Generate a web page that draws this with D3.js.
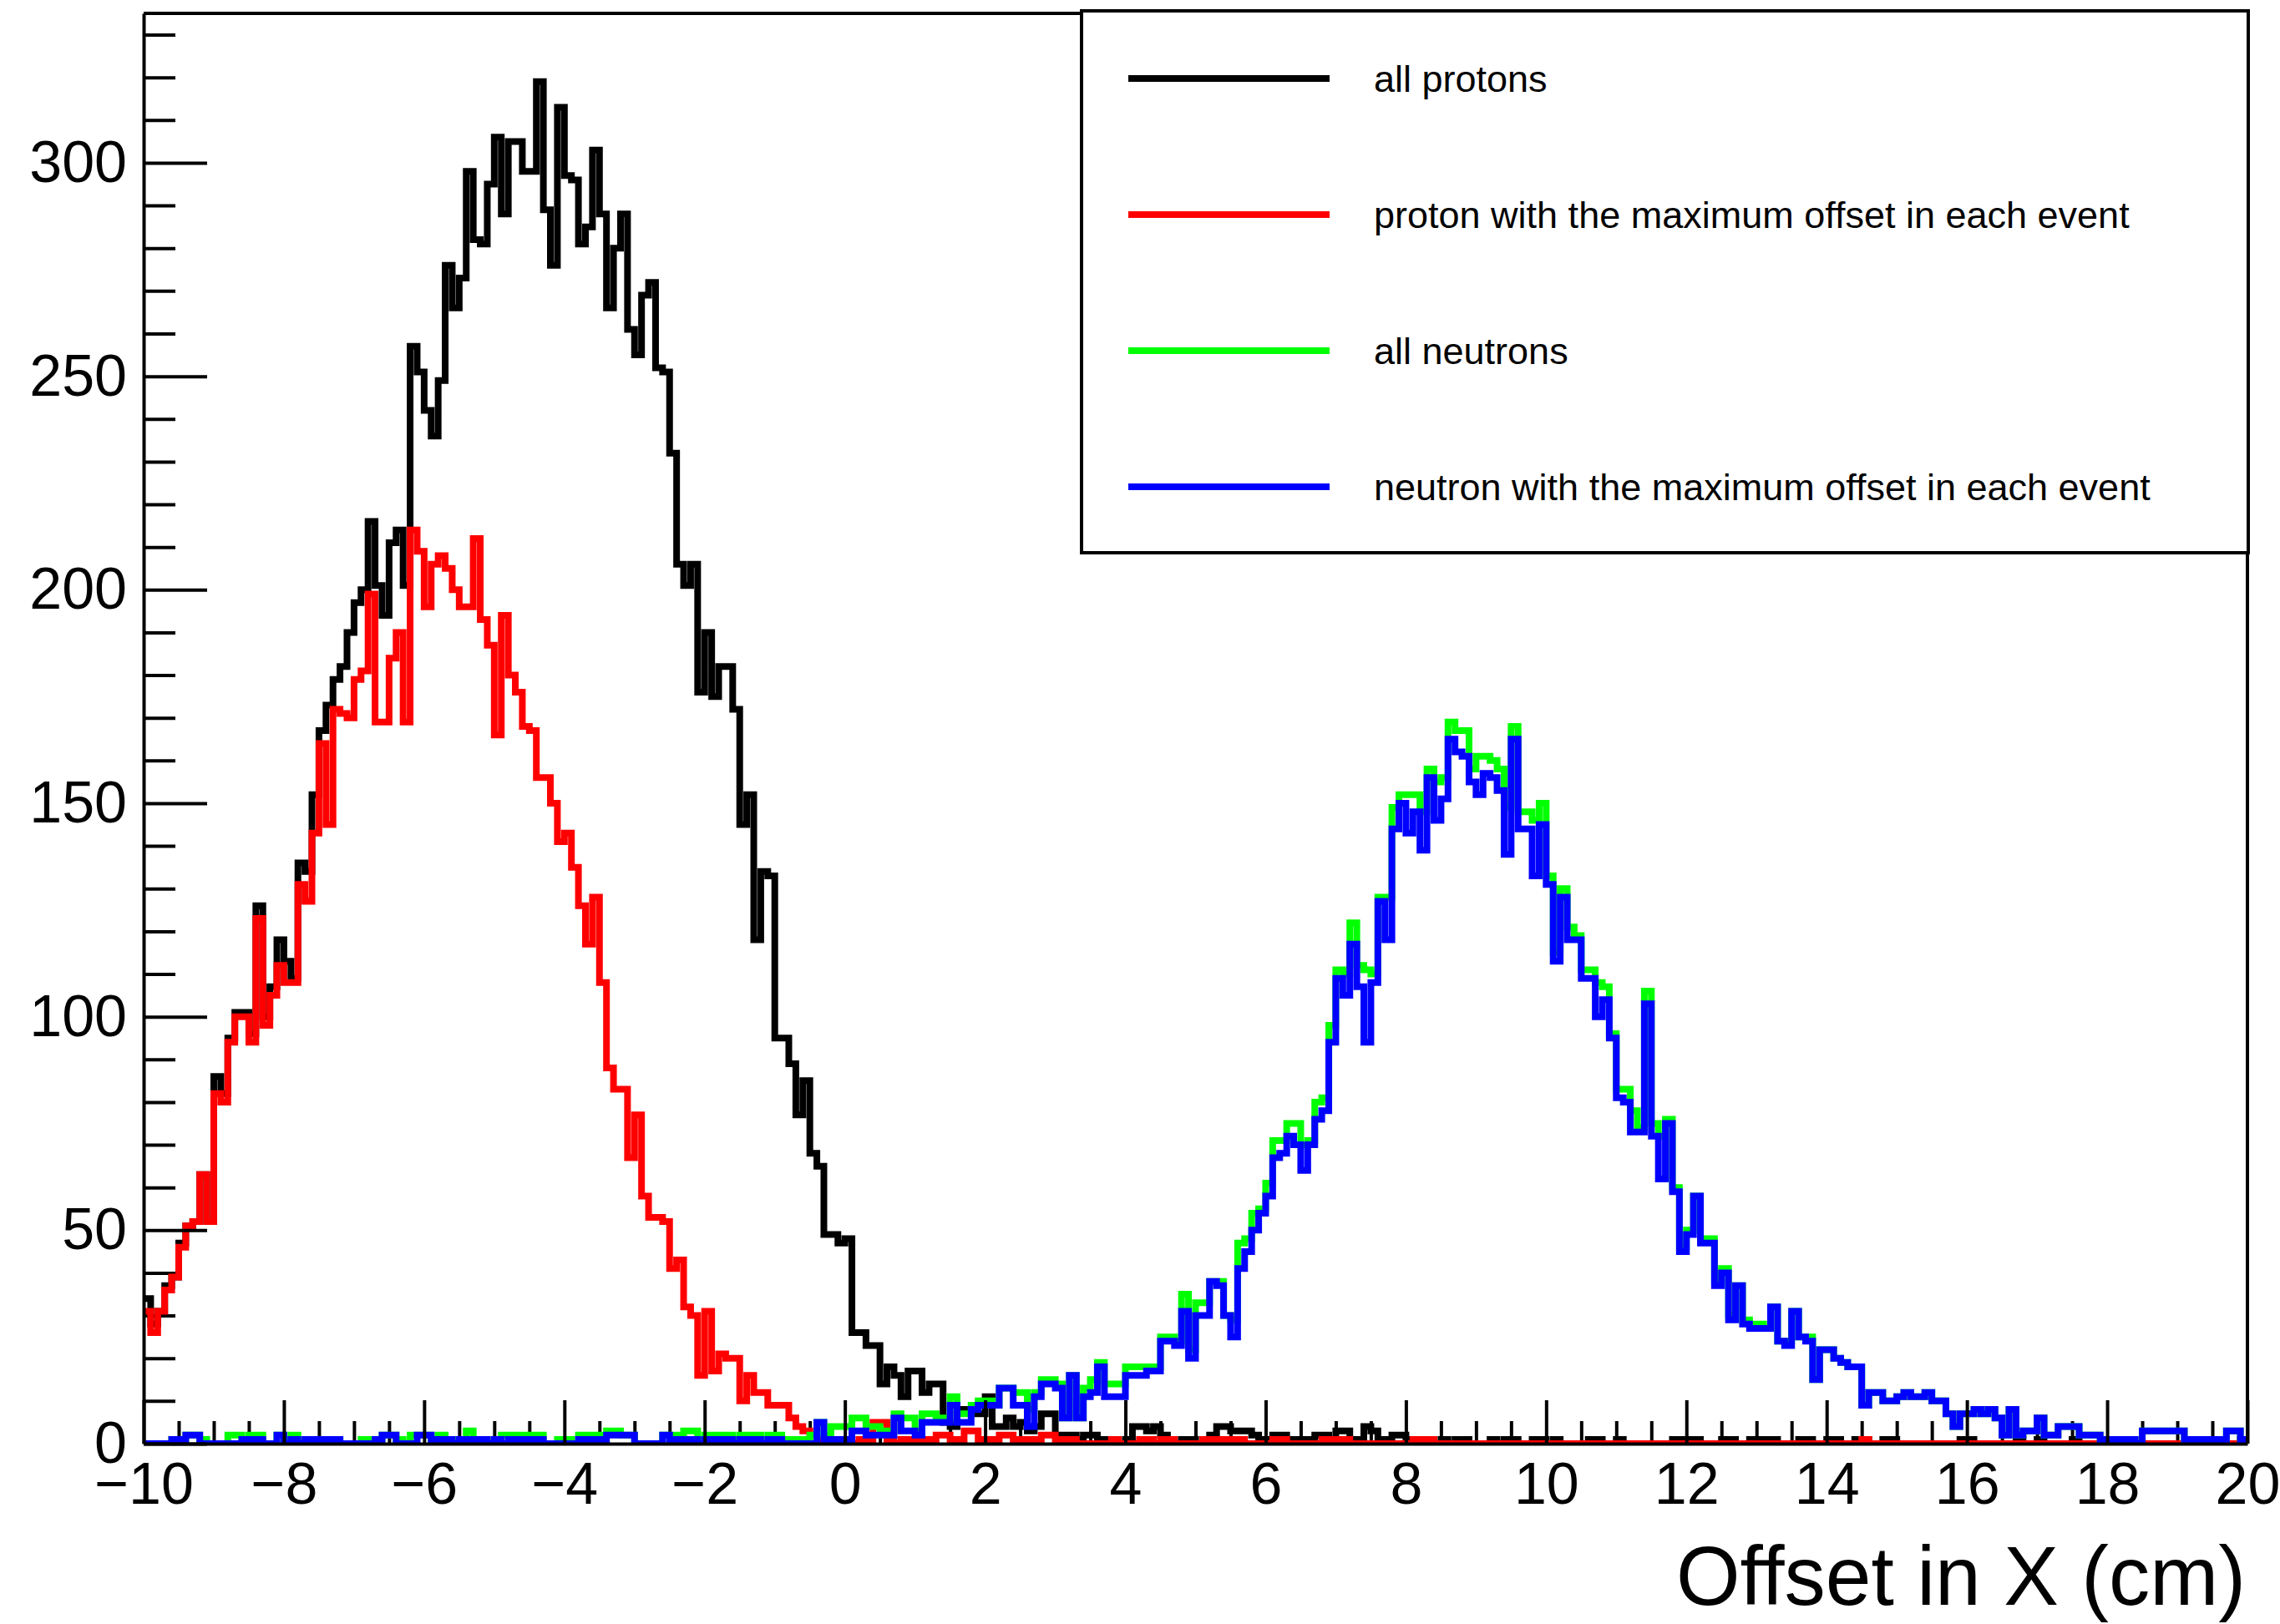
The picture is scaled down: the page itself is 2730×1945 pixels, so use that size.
<!DOCTYPE html>
<html>
<head>
<meta charset="utf-8">
<script src="https://cdn.jsdelivr.net/npm/d3@7"></script>
<style>
html,body{margin:0;padding:0;background:#fff;}
svg{display:block;}
text{font-family:"Liberation Sans",Arial,Helvetica,sans-serif;fill:#000;}
</style>
</head>
<body>
<svg id="chart" width="2730" height="1945"></svg>
<script>
// ---------- binning ----------
const xMin = -10, xMax = 20, binWidth = 0.1;

// ---------- series (counts per 0.1 cm bin, 300 bins from -10 to 20) ----------
const allProtons = [
34,28,31,37,39,47,51,52,63,52,
86,82,95,101,101,96,126,100,107,118,
113,109,136,134,152,167,173,179,182,190,
197,200,216,201,194,211,214,201,257,251,
242,236,249,276,266,273,298,282,281,295,
306,288,305,305,298,298,319,289,276,313,
297,296,281,285,303,288,266,280,288,261,
255,269,272,252,251,232,206,201,206,176,
190,175,182,182,172,145,152,118,134,133,
95,95,89,77,85,68,65,49,49,47,
48,26,26,23,23,14,18,16,11,17,
17,12,14,14,5,4,8,8,7,7,
11,4,4,6,4,5,3,4,7,7,
2,2,2,1,2,2,1,1,1,0,
1,4,4,3,4,2,1,0,1,1,
0,1,2,4,4,3,3,3,2,1,
1,2,2,1,1,1,1,2,2,1,
3,3,1,1,4,3,1,1,2,2,
1,1,1,1,0,1,0,1,1,0,
0,0,1,0,1,1,0,0,1,1,
0,1,0,0,0,0,1,1,0,0,
1,0,0,0,0,0,0,0,1,1,
1,1,0,0,0,1,1,0,0,1,
1,1,1,0,0,0,1,1,0,0,
1,1,0,0,1,1,0,0,1,1,
0,0,0,0,0,0,0,0,0,1,
1,0,0,0,0,0,0,1,0,0,
1,0,0,0,0,1,0,0,0,0,
0,0,0,0,0,0,0,0,0,0,
0,0,0,0,0,0,0,0,0,1
];

const maxOffsetProton = [
31,26,31,36,39,46,51,52,63,52,
82,80,94,100,100,94,123,98,105,112,
108,108,131,127,143,164,145,172,171,170,
179,181,199,169,169,184,190,169,214,209,
196,206,208,205,200,196,196,212,193,187,
166,194,180,176,168,167,156,156,150,141,
143,135,126,117,128,108,88,83,83,67,
77,58,53,53,52,41,43,32,30,16,
31,17,21,20,20,10,16,12,12,9,
9,9,6,4,3,2,1,0,1,1,
1,0,1,1,5,5,1,0,1,1,
1,1,1,2,2,1,1,3,3,1,
1,1,2,2,1,1,1,1,2,2,
1,1,1,0,0,0,0,0,1,0,
0,0,1,1,0,1,1,0,0,0,
0,1,1,1,1,1,1,0,0,0,
0,1,1,0,0,0,0,0,1,1,
1,1,0,0,0,0,0,0,0,0,
0,1,1,1,0,0,0,0,0,0,
0,0,0,0,0,0,0,0,0,0,
0,0,0,0,0,0,0,0,0,0,
0,0,0,0,0,0,0,0,0,0,
0,0,0,0,0,0,0,0,0,0,
0,0,0,0,0,0,0,0,0,0,
0,0,0,0,0,1,0,0,0,0,
0,0,0,0,0,0,0,0,0,0,
0,0,0,0,0,0,0,0,0,0,
0,0,0,0,0,0,0,0,0,0,
0,0,0,0,0,0,0,0,0,0,
0,0,0,0,0,0,0,0,0,1
];

const allNeutrons = [
0,0,0,0,1,1,2,2,1,0,
0,0,2,2,1,2,2,0,0,2,
1,2,0,1,1,1,1,1,0,0,
0,1,1,1,2,2,1,0,2,2,
2,1,2,1,1,1,3,1,1,0,
1,2,2,2,2,2,2,0,0,1,
1,0,2,2,2,2,3,3,2,2,
0,0,0,0,2,2,2,3,3,1,
2,2,2,2,1,2,2,2,0,2,
2,1,1,1,1,2,5,2,4,4,
4,6,6,4,4,3,3,7,6,6,
3,7,7,6,6,11,7,7,9,10,
10,9,13,13,12,12,8,12,15,15,
14,6,16,6,13,15,19,14,14,14,
18,18,18,18,18,25,25,24,35,22,
33,33,38,38,30,29,47,48,54,55,
61,71,71,75,75,70,71,80,81,98,
111,110,122,112,111,110,128,128,149,152,
152,152,148,158,155,156,169,167,167,158,
161,161,160,158,149,168,148,148,146,150,
133,115,130,121,119,111,111,108,107,96,
83,83,78,74,106,75,72,76,60,46,
50,58,48,48,38,41,30,37,29,28,
28,27,32,24,24,31,25,25,15,22,
22,20,19,18,18,9,12,12,10,10,
11,12,11,11,12,10,10,7,4,7,
7,8,7,8,6,2,8,2,3,3,
6,2,2,4,4,4,2,2,2,1,
1,1,1,1,0,3,3,3,3,3,
3,1,1,1,1,1,1,3,3,1
];

const maxOffsetNeutron = [
0,0,0,0,1,1,2,2,0,0,
0,0,0,0,1,1,1,0,0,2,
0,1,0,1,1,1,1,1,0,0,
0,0,0,1,2,2,0,0,0,2,
2,1,1,1,0,1,1,1,1,0,
1,0,1,1,1,1,1,0,0,0,
0,0,1,1,1,1,2,2,2,2,
0,0,0,0,2,1,1,1,1,0,
1,1,1,1,0,1,1,1,0,1,
1,0,0,0,0,0,5,1,1,1,
1,3,3,2,2,2,2,6,3,3,
2,5,5,5,5,9,5,5,8,9,
9,9,13,13,9,9,4,11,14,14,
13,6,16,6,11,12,18,11,11,11,
16,16,16,17,17,24,24,23,31,20,
30,30,38,37,30,25,41,45,50,54,
58,67,68,72,70,64,70,76,78,94,
109,105,117,107,94,108,127,118,144,150,
143,148,139,156,146,151,165,162,161,155,
152,157,156,153,138,165,144,144,133,145,
131,113,128,118,118,109,109,100,104,95,
81,80,73,73,103,72,62,75,59,45,
49,58,47,47,37,40,29,37,28,27,
27,27,32,24,23,31,25,24,15,22,
22,20,19,18,18,9,12,12,10,10,
11,12,11,11,12,10,10,7,4,7,
7,8,7,8,6,2,8,2,3,3,
6,2,2,4,4,4,2,2,2,1,
1,1,1,1,0,3,3,3,3,3,
3,1,1,1,1,1,1,3,3,1
];

// ---------- labels & ticks ----------
const seriesNames = [
  "all protons",
  "proton with the maximum offset in each event",
  "all neutrons",
  "neutron with the maximum offset in each event"
];
const seriesColors = ["#000000", "#ff0000", "#00ff00", "#0000ff"];
const xTickMajor = [-10,-8,-6,-4,-2,0,2,4,6,8,10,12,14,16,18,20];
const yTickMajor = [0,50,100,150,200,250,300];
const xTitle = "Offset in X (cm)";
const yMax = 335;

// ---------- layout ----------
const frame = {left:172, right:2691, top:16, bottom:1729};
const svg = d3.select("#chart");
svg.append("rect").attr("x",0).attr("y",0).attr("width",2730).attr("height",1945).attr("fill","#fff");

const x = d3.scaleLinear().domain([xMin, xMax]).range([frame.left, frame.right]);
const y = d3.scaleLinear().domain([0, yMax]).range([frame.bottom, frame.top]);

// clip
svg.append("defs").append("clipPath").attr("id","clipFrame")
  .append("rect").attr("x",frame.left).attr("y",frame.top)
  .attr("width",frame.right-frame.left).attr("height",frame.bottom-frame.top);

// minor ticks (drawn inside frame)
const xMinorVals = d3.range(xMin, xMax + 1e-9, 0.5).filter(v => Math.abs(v/2 - Math.round(v/2)) > 1e-6);
const yMinorVals = d3.range(0, yMax, 10).filter(v => v % 50 !== 0);

const gxMinor = svg.append("g").attr("transform",`translate(0,${frame.bottom})`)
  .call(d3.axisBottom(x).tickValues(xMinorVals).tickSize(-27).tickSizeOuter(0).tickFormat(""));
const gyMinor = svg.append("g").attr("transform",`translate(${frame.left},0)`)
  .call(d3.axisLeft(y).tickValues(yMinorVals).tickSize(-38).tickSizeOuter(0).tickFormat(""));
[gxMinor, gyMinor].forEach(g => {
  g.select(".domain").remove();
  g.selectAll(".tick line").attr("stroke","#000").attr("stroke-width",4);
});

// histogram lines
const stepLine = d3.line()
  .x(d => x(d[0]))
  .y(d => y(d[1]))
  .curve(d3.curveStepAfter);

function histPoints(vals){
  const pts = vals.map((v,i) => [xMin + i*binWidth, v]);
  pts.push([xMax, vals[vals.length-1]]);
  return pts;
}

const seriesData = [allProtons, maxOffsetProton, allNeutrons, maxOffsetNeutron];
const gHist = svg.append("g").attr("clip-path","url(#clipFrame)");
seriesData.forEach((vals, k) => {
  gHist.append("path")
    .attr("d", stepLine(histPoints(vals)))
    .attr("fill","none")
    .attr("stroke", seriesColors[k])
    .attr("stroke-width", 8)
    .attr("stroke-linejoin","miter")
    .attr("stroke-linecap","butt");
});

// major axes
const gx = svg.append("g").attr("transform",`translate(0,${frame.bottom})`)
  .call(d3.axisBottom(x).tickValues(xTickMajor).tickSize(-52).tickSizeOuter(0).tickPadding(22));
const gy = svg.append("g").attr("transform",`translate(${frame.left},0)`)
  .call(d3.axisLeft(y).tickValues(yTickMajor).tickSize(-76).tickSizeOuter(0).tickPadding(20));
[gx, gy].forEach(g => {
  g.select(".domain").attr("stroke","#000").attr("stroke-width",4);
  g.selectAll(".tick line").attr("stroke","#000").attr("stroke-width",4);
  g.selectAll(".tick text").attr("font-size",70)
    .attr("font-family",'"Liberation Sans",Arial,Helvetica,sans-serif').attr("fill","#000");
});

// frame top and right
svg.append("path")
  .attr("d",`M${frame.left},${frame.top}H${frame.right}V${frame.bottom}`)
  .attr("fill","none").attr("stroke","#000").attr("stroke-width",4);

// x-axis title
svg.append("text")
  .attr("x", frame.right - 2).attr("y", 1922)
  .attr("text-anchor","end")
  .attr("font-size",100)
  .attr("textLength",682).attr("lengthAdjust","spacingAndGlyphs")
  .text(xTitle);

// legend
const legend = {x:1295, y:13, w:1397, h:649};
svg.append("rect").attr("x",legend.x).attr("y",legend.y)
  .attr("width",legend.w).attr("height",legend.h)
  .attr("fill","#fff").attr("stroke","#000").attr("stroke-width",4);
const legendRowY = [94, 257, 420, 583];
seriesNames.forEach((name, k) => {
  svg.append("line")
    .attr("x1",1351).attr("x2",1592)
    .attr("y1",legendRowY[k]).attr("y2",legendRowY[k])
    .attr("stroke",seriesColors[k]).attr("stroke-width",8);
  svg.append("text")
    .attr("x",1645).attr("y",legendRowY[k])
    .attr("dy","0.35em")
    .attr("font-size",45)
    .text(name);
});
</script>
</body>
</html>
